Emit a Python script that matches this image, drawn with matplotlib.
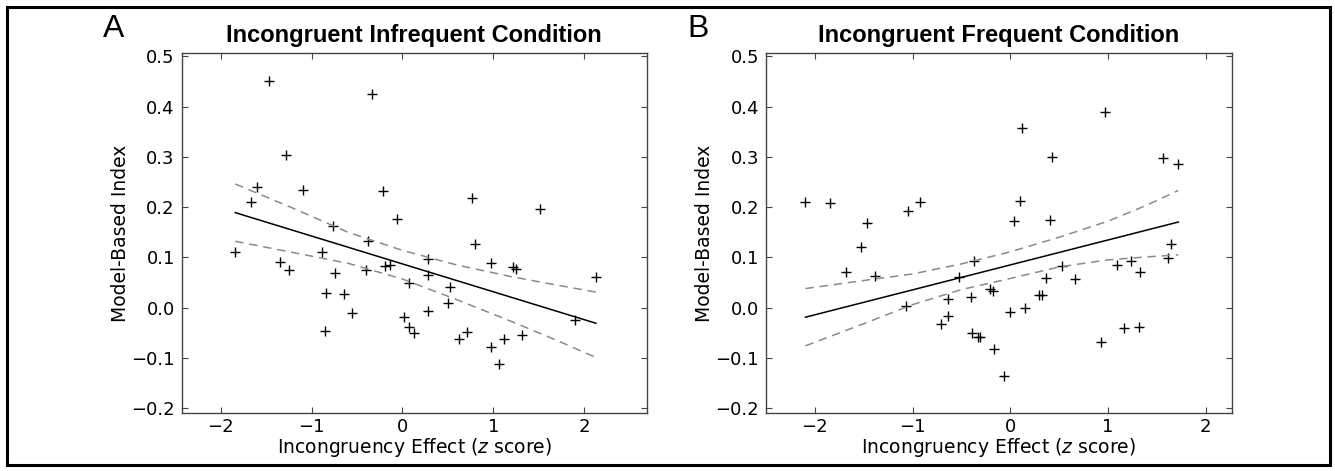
import numpy as np
import matplotlib
matplotlib.use("Agg")
import matplotlib.pyplot as plt
from matplotlib.patches import Rectangle

# ---------------- data ----------------
infreq_x = [-1.84, -1.67, -1.60, -1.47, -1.344, -1.28, -1.25, -1.09, -0.88, -0.853,
            -0.84, -0.76, -0.743, -0.64, -0.555, -0.397, -0.38, -0.335, -0.217, -0.195,
            -0.14, -0.055, 0.018, 0.073, 0.073, 0.125, 0.282, 0.282, 0.282, 0.503,
            0.521, 0.624, 0.712, 0.767, 0.797, 0.98, 0.98, 1.065, 1.116, 1.219,
            1.249, 1.315, 1.516, 1.899, 2.13]
infreq_y = [0.111, 0.210, 0.240, 0.451, 0.090, 0.303, 0.074, 0.235, 0.110, -0.046,
            0.029, 0.163, 0.069, 0.027, -0.011, 0.074, 0.133, 0.425, 0.233, 0.0835,
            0.0855, 0.177, -0.019, 0.050, -0.039, -0.051, 0.097, 0.065, -0.007, 0.009,
            0.042, -0.063, -0.049, 0.218, 0.127, 0.0895, -0.0775, -0.113, -0.062, 0.0815,
            0.076, -0.055, 0.196, -0.0245, 0.060]

freq_x = [-2.096, -1.85, -1.68, -1.525, -1.471, -1.385, -1.067, -1.043, -0.927, -0.708,
          -0.636, -0.636, -0.527, -0.40, -0.394, -0.376, -0.325, -0.308, -0.212, -0.178,
          -0.164, -0.065, -0.007, 0.034, 0.095, 0.116, 0.154, 0.29, 0.328, 0.369,
          0.403, 0.427, 0.529, 0.66, 0.93, 0.97, 1.09, 1.16, 1.24, 1.32,
          1.33, 1.56, 1.62, 1.65, 1.72]
freq_y = [0.211, 0.208, 0.0705, 0.120, 0.168, 0.063, 0.004, 0.192, 0.210, -0.033,
          0.018, -0.0166, 0.061, 0.021, -0.051, 0.093, -0.059, -0.058, 0.0365, 0.033,
          -0.082, -0.136, -0.0086, 0.173, 0.2116, 0.358, 0.0, 0.026, 0.026, 0.058,
          0.175, 0.299, 0.0825, 0.0565, -0.069, 0.39, 0.085, -0.041, 0.093, -0.039,
          0.07, 0.297, 0.098, 0.127, 0.285]

# fitted regression lines and confidence bands
infreq_fit_x = [-1.84, 2.13]
infreq_fit_y = [0.189, -0.031]
infreq_ci_x = [-1.84, -1.2, -0.6, 0.0, 0.6, 1.2, 1.7, 2.13]
infreq_ci_hi = [0.246, 0.1975, 0.150, 0.114, 0.0848, 0.0616, 0.0449, 0.031]
infreq_ci_lo = [0.132, 0.1095, 0.0883, 0.057, 0.0158, -0.0274, -0.0651, -0.099]

freq_fit_x = [-2.096, 1.72]
freq_fit_y = [-0.019, 0.1703]
freq_ci_x = [-2.096, -1.5, -1.0, -0.5, 0.0, 0.5, 1.0, 1.4, 1.72]
freq_ci_hi = [0.038, 0.054, 0.067, 0.087, 0.111, 0.140, 0.172, 0.204, 0.233]
freq_ci_lo = [-0.076, -0.032, 0.006, 0.036, 0.058, 0.081, 0.095, 0.101, 0.105]

titles = ["Incongruent Infrequent Condition", "Incongruent Frequent Condition"]
panel_letters = ["A", "B"]
xlabel = r"Incongruency Effect ($\it{z}$ score)"
ylabel = "Model-Based Index"
yticks = [-0.2, -0.1, 0.0, 0.1, 0.2, 0.3, 0.4, 0.5]
yticklabels = ["\u22120.2", "\u22120.1", "0.0", "0.1", "0.2", "0.3", "0.4", "0.5"]
xticks = [-2, -1, 0, 1, 2]
xticklabels = ["\u22122", "\u22121", "0", "1", "2"]

# ---------------- figure ----------------
W, H = 1335, 471
fig = plt.figure(figsize=(W / 100, H / 100), dpi=100)
fig.patches.append(Rectangle((7 / W, 1 - 465 / H), (1330 - 7) / W, (465 - 7) / H,
                             transform=fig.transFigure, fill=False,
                             edgecolor="black", linewidth=2.2))

ax_h = (412.7 - 53.3) / H
ax_b = 1 - 412.7 / H
axA = fig.add_axes([181.7 / W, ax_b, 465 / W, ax_h])
axB = fig.add_axes([766 / W, ax_b, 466 / W, ax_h])

xlims = [(-2.43, 2.69), (-2.50, 2.27)]
panels = [
    (infreq_x, infreq_y, infreq_fit_x, infreq_fit_y, infreq_ci_x, infreq_ci_lo, infreq_ci_hi),
    (freq_x, freq_y, freq_fit_x, freq_fit_y, freq_ci_x, freq_ci_lo, freq_ci_hi),
]
letter_x = [103 / W, 687 / W]
dash = (0, (5.5, 3.8))

for ax, pdata, xl, title, letter, lx in zip([axA, axB], panels, xlims, titles,
                                           panel_letters, letter_x):
    x, y, fx, fy, cx, clo, chi = pdata
    ax.plot(x, y, linestyle="none", marker="+", color="black",
            markersize=6.5, markeredgewidth=1.0)
    ax.plot(fx, fy, color="black", linewidth=1.1)
    ax.plot(cx, clo, color="#8a8a8a", linewidth=1.1, linestyle=dash)
    ax.plot(cx, chi, color="#8a8a8a", linewidth=1.1, linestyle=dash)

    ax.set_xlim(*xl)
    ax.set_ylim(-0.209, 0.506)
    ax.set_xticks(xticks)
    ax.set_yticks(yticks)
    ax.set_xticklabels(xticklabels)
    ax.set_yticklabels(yticklabels)
    ax.tick_params(direction="in", top=True, right=True, length=4, width=0.8,
                   color="#444444", labelsize=13)
    ax.tick_params(axis="x", pad=4)
    ax.tick_params(axis="y", pad=5)
    for sp in ax.spines.values():
        sp.set_color("#444444")
        sp.set_linewidth(1.0)
    ax.set_xlabel(xlabel, fontsize=13.5, labelpad=0)
    ax.set_ylabel(ylabel, fontsize=13.5, labelpad=1)
    ax.set_title(title, fontsize=17, fontweight="bold",
                 family=["Liberation Sans Narrow", "Liberation Sans", "DejaVu Sans"], pad=8)
    fig.text(lx, 1 - 37 / H, letter, fontsize=23,
             family=["Liberation Sans", "DejaVu Sans"], ha="left", va="baseline")

fig.savefig("out.png", dpi=100)
